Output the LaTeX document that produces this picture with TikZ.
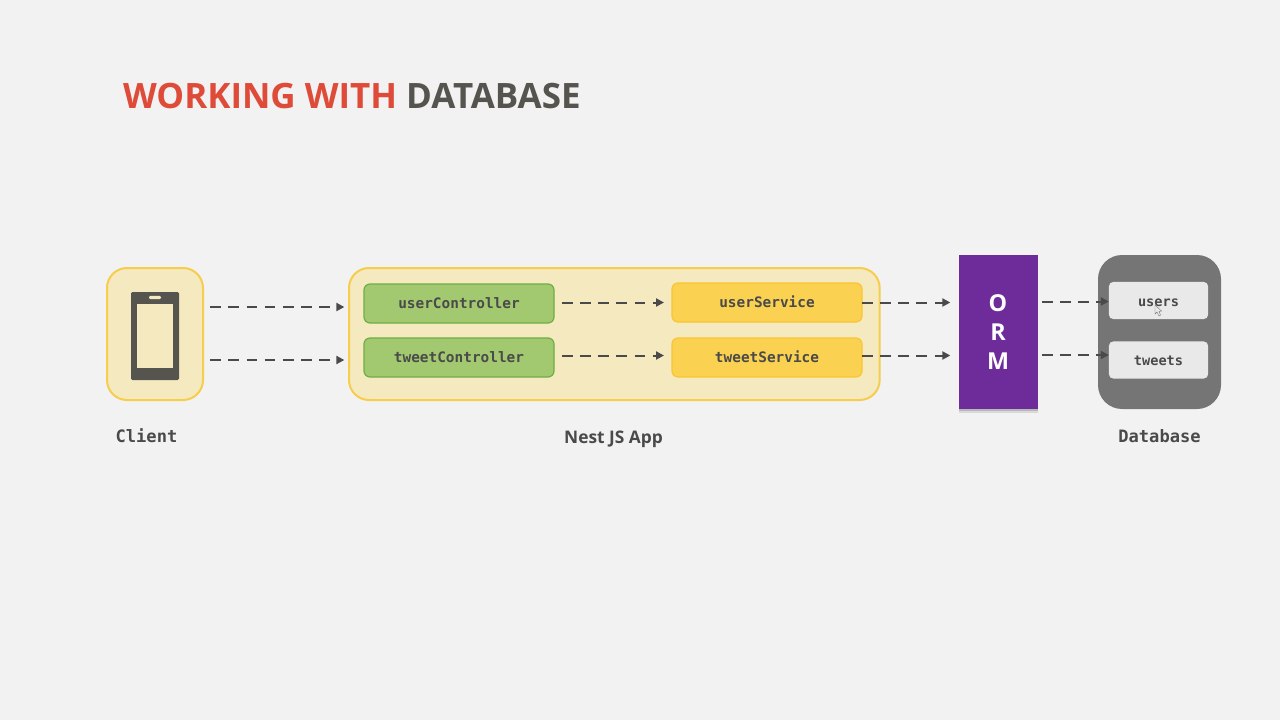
\documentclass[tikz,border=0pt]{standalone}
\usepackage{fontspec}
\setmainfont{Open Sans}
\newfontfamily\monof{DejaVu Sans Mono}
\newfontfamily\labf{Open Sans}
\usetikzlibrary{arrows.meta}
\definecolor{bgc}{HTML}{F2F2F2}
\definecolor{creamf}{HTML}{F5E9C0}
\definecolor{creamd}{HTML}{F6CD4C}
\definecolor{greenf}{HTML}{A2C96F}
\definecolor{greend}{HTML}{6FAE45}
\definecolor{yellf}{HTML}{FAD150}
\definecolor{yelld}{HTML}{FBC531}
\definecolor{inkc}{HTML}{4A4A4A}
\definecolor{redc}{HTML}{DE4B39}
\definecolor{purp}{HTML}{6E2C9A}
\definecolor{dbg}{HTML}{757575}
\definecolor{cellc}{HTML}{E9E9E9}
\definecolor{phonec}{HTML}{55544F}
\tikzset{
  x=0.75pt,y=-0.75pt,
  every node/.style={inner sep=0pt,outer sep=0pt},
  panel/.style={draw=creamd,fill=creamf,line width=1.5pt,rounded corners=15pt,anchor=north west},
  ctrl/.style={draw=greend,fill=greenf,line width=0.9pt,rounded corners=4.5pt,minimum width=142.5pt,minimum height=29.25pt,text height=8pt,text depth=0pt,font=\monof\bfseries\fontsize{10.8}{12}\selectfont,text=inkc},
  svc/.style={draw=yelld,fill=yellf,line width=0.9pt,rounded corners=4.5pt,minimum width=142.5pt,minimum height=29.25pt,text height=8pt,text depth=0pt,font=\monof\bfseries\fontsize{10.8}{12}\selectfont,text=inkc},
  cellbox/.style={fill=cellc,rounded corners=3.5pt,minimum width=74.5pt,minimum height=28pt,text height=8.6pt,text depth=0pt,font=\monof\bfseries\fontsize{10.2}{12}\selectfont,text=inkc},
  captxt/.style={font=\monof\bfseries\fontsize{12.8}{14}\selectfont,text=inkc},
  flow/.style={draw=inkc,line width=1.5pt,dash pattern=on 8pt off 5.6pt,-{Triangle[length=6pt,width=6pt,inkc,sep=0pt]}},
}
\begin{document}
\begin{tikzpicture}
\useasboundingbox (0,0) rectangle (1280,720);
\fill[bgc] (0,0) rectangle (1280,720);
% title
\node[anchor=west,font=\bfseries\fontsize{26.2}{30}\selectfont] (title) at (123,96) {\textcolor{redc}{WORKING WITH} \textcolor{phonec}{DATABASE}};
% panels
\node[panel,minimum width=72pt,minimum height=99pt] (client) at (107,268) {};
\node[panel,minimum width=398pt,minimum height=99pt] (app) at (349,268) {};
% phone
\node[fill=phonec,rounded corners=1pt,minimum width=36pt,minimum height=66pt] (phone) at (155,336) {};
\node[fill=creamf,minimum width=27pt,minimum height=48pt] (screen) at (155,336) {};
\node[fill=creamf,rounded corners=1pt,minimum width=9pt,minimum height=2.4pt] (speaker) at (155,297.5) {};
% controllers and services
\node[ctrl] (uc) at (459,303.5) {userController};
\node[ctrl] (tc) at (459,357.5) {tweetController};
\node[svc] (us) at (767,302.5) {userService};
\node[svc] (ts) at (767,357.5) {tweetService};
% ORM
\fill[black,opacity=.10] (959,400) rectangle (1038,412.5);
\fill[black,opacity=.15] (959,400) rectangle (1038,411);
\node[fill=purp,anchor=north west,minimum width=59.25pt,minimum height=115.5pt] (orm) at (959,255) {};
\node[text=white,font=\labf\bfseries\fontsize{17.5}{21.7}\selectfont,align=center] (ormt) at (998,332) {O\\R\\M};
% database
\node[fill=dbg,rounded corners=18pt,anchor=north west,minimum width=92.25pt,minimum height=115.5pt] (db) at (1098,255) {};
\node[cellbox] (users) at (1158.5,300.5) {users};
\node[cellbox] (tweets) at (1158.5,360) {tweets};
% cursor
\fill[cellc,draw=dbg,line width=.3pt] (1155,305) -- (1155,314) -- (1157,312) -- (1159,316) -- (1160.5,315) -- (1159,311.5) -- (1161.5,311) -- cycle;
% captions
\node[captxt] (cc) at (146.5,436) {Client};
\node[text=inkc,font=\labf\bfseries\fontsize{13}{15}\selectfont] (ca) at (613.5,439) {Nest JS App};
\node[captxt] (cd) at (1159.5,436) {Database};
% connectors
\draw[flow,shorten <=5.5pt,shorten >=3.5pt] ([yshift=20.25pt]client.east) -- ([yshift=20.25pt]app.west);
\draw[flow,shorten <=5.5pt,shorten >=3.5pt] ([yshift=-19.5pt]client.east) -- ([yshift=-19.5pt]app.west);
\draw[flow,shorten <=6pt,shorten >=6pt] ([yshift=.75pt]uc.east) -- (us.west);
\draw[flow,shorten <=6pt,shorten >=6pt] ([yshift=1.5pt]tc.east) -- ([yshift=1.5pt]ts.west);
\draw[flow,shorten >=6.5pt] (us.east) -- (us.east -| orm.west);
\draw[flow,shorten >=6.5pt] ([yshift=1.5pt]ts.east) -- ([yshift=1.5pt]ts.east -| orm.west);
\draw[flow,shorten <=3pt,shorten >=0pt] ([yshift=-.75pt]orm.east |- users.west) -- ([yshift=-.75pt]users.west);
\draw[flow,shorten <=3pt,shorten >=0pt] ([yshift=3.75pt]orm.east |- tweets.west) -- ([yshift=3.75pt]tweets.west);
\end{tikzpicture}
\end{document}
